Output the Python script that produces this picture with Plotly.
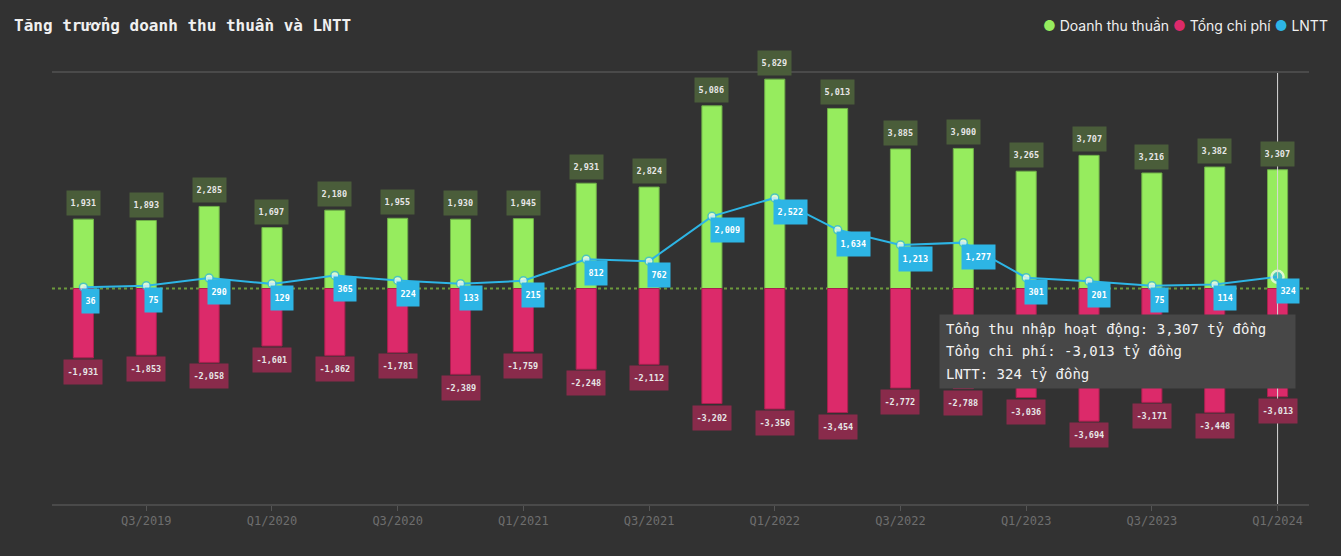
import plotly.graph_objects as go

quarters = ["Q2/2019", "Q3/2019", "Q4/2019", "Q1/2020", "Q2/2020", "Q3/2020", "Q4/2020",
            "Q1/2021", "Q2/2021", "Q3/2021", "Q4/2021", "Q1/2022", "Q2/2022", "Q3/2022",
            "Q4/2022", "Q1/2023", "Q2/2023", "Q3/2023", "Q4/2023", "Q1/2024"]
revenue = [1931, 1893, 2285, 1697, 2180, 1955, 1930, 1945, 2931, 2824,
           5086, 5829, 5013, 3885, 3900, 3265, 3707, 3216, 3382, 3307]
costs = [-1931, -1853, -2058, -1601, -1862, -1781, -2389, -1759, -2248, -2112,
         -3202, -3356, -3454, -2772, -2788, -3036, -3694, -3171, -3448, -3013]
profit = [36, 75, 290, 129, 365, 224, 133, 215, 812, 762,
          2009, 2522, 1634, 1213, 1277, 301, 201, 75, 114, 324]
tick_labels = quarters[1::2]

BG = "#323232"
GREEN = "#96ec5e"
PINK = "#dc2a6a"
BLUE = "#2db5e5"
MONO = "DejaVu Sans Mono"

W, H = 1341, 556
ML, MR, MT, MB = 52, 32, 73, 52
PW, PH = W - ML - MR, H - MT - MB

fig = go.Figure()
fig.add_trace(go.Bar(x=quarters, y=revenue, name="Doanh thu thuần", width=0.32,
                     marker=dict(color=GREEN, line=dict(color="#6fae48", width=1)),
                     hoverinfo="skip"))
fig.add_trace(go.Bar(x=quarters, y=costs, name="Tổng chi phí", width=0.32,
                     marker=dict(color=PINK, line=dict(color="#a8204f", width=1)),
                     hoverinfo="skip"))
n = len(quarters)
fig.add_trace(go.Scatter(
    x=quarters, y=profit, name="LNTT", mode="lines+markers",
    line=dict(color=BLUE, width=2),
    marker=dict(size=[8] * (n - 1) + [12],
                color=["white"] * (n - 1) + [BLUE],
                line=dict(color=[BLUE] * (n - 1) + ["white"], width=[1.5] * (n - 1) + [2.5])),
    hoverinfo="skip"))

LBL = dict(family=MONO, size=8.5, weight="bold")
annotations = []
for q, v in zip(quarters, revenue):
    annotations.append(dict(x=q, y=v, xref="x", yref="y", text=f"{v:,}", showarrow=False,
                            yanchor="bottom", yshift=3, bgcolor="#4a5d3a", borderpad=3.5,
                            height=17, font=dict(LBL, color="#e6e6e6")))
for q, v in zip(quarters, costs):
    annotations.append(dict(x=q, y=v, xref="x", yref="y", text=f"{v:,}", showarrow=False,
                            yanchor="top", yshift=-1, bgcolor="#892b4b", borderpad=3.5,
                            height=17, font=dict(LBL, color="#e6e6e6")))
for q, v in zip(quarters, profit):
    annotations.append(dict(x=q, y=v, xref="x", yref="y", text=f"{v:,}", showarrow=False,
                            xanchor="left", yanchor="top", xshift=-2, yshift=-1,
                            bgcolor=BLUE, borderpad=3.5, height=17,
                            font=dict(LBL, color="white")))

# title
annotations.append(dict(xref="paper", yref="paper", x=(12 - ML) / PW, y=1 + (MT - 25) / PH,
                        xanchor="left", yanchor="middle", showarrow=False,
                        text="<b>Tăng trưởng doanh thu thuần và LNTT</b>",
                        font=dict(family=MONO, size=16, color="#f0f0f0")))

# legend
legend_text = (f'<span style="color:{GREEN}">●</span> Doanh thu thuần '
               f'<span style="color:{PINK}">●</span> Tổng chi phí '
               f'<span style="color:{BLUE}">●</span> LNTT')
annotations.append(dict(xref="paper", yref="paper", x=(1330 - ML) / PW, y=1 + (MT - 25) / PH,
                        xanchor="right", yanchor="middle", showarrow=False,
                        text=legend_text, font=dict(family="Inter", size=14, color="#f0f0f0")))

# tooltip (hover state at the last quarter)
last = n - 1
tip_y = -1743
annotations.append(dict(x=quarters[last], y=tip_y, xref="x", yref="y", xanchor="right",
                        yanchor="middle", xshift=18, showarrow=False, text=" ",
                        width=347, height=65, bgcolor="#474747", borderpad=4,
                        font=dict(family=MONO, size=14, color="#f2f2f2")))
tip_lines = [f"Tổng thu nhập hoạt động: {revenue[last]:,} tỷ đồng",
             f"Tổng chi phí: {costs[last]:,} tỷ đồng",
             f"LNTT: {profit[last]:,} tỷ đồng"]
for i, line in enumerate(tip_lines):
    annotations.append(dict(x=quarters[last], y=tip_y, xref="x", yref="y", xanchor="left",
                            yanchor="middle", xshift=-334, yshift=22.5 - 22.5 * i,
                            showarrow=False, text=line, align="left",
                            font=dict(family=MONO, size=14, color="#f2f2f2")))

shapes = [
    dict(type="line", xref="paper", yref="y", x0=0, x1=1, y0=0, y1=0,
         line=dict(color="#6d9a3c", width=2, dash="dot"), layer="below"),
    dict(type="line", xref="x", yref="paper", x0=quarters[last], x1=quarters[last], y0=0, y1=1,
         line=dict(color="#d8d8d8", width=1)),
]

fig.update_layout(
    width=W, height=H,
    paper_bgcolor=BG, plot_bgcolor=BG,
    margin=dict(l=ML, r=MR, t=MT, b=MB),
    barmode="relative", bargap=0.68,
    showlegend=False,
    annotations=annotations, shapes=shapes,
    xaxis=dict(type="category", categoryorder="array", categoryarray=quarters,
               range=[-0.5, n - 0.5],
               tickvals=tick_labels, ticktext=tick_labels,
               showgrid=False, showline=True, mirror=True, linecolor="#4a4a4a", linewidth=2,
               ticks="outside", ticklen=5, tickcolor="#555555",
               tickfont=dict(family=MONO, size=12, color="#6e6e6e")),
    yaxis=dict(range=[-6000, 6000], showgrid=False, zeroline=False,
               showticklabels=False, fixedrange=True),
)

fig.write_html("out.html", config={"displayModeBar": False},
               post_script="document.body.style.margin='0px';document.body.style.background='" + BG + "';")
